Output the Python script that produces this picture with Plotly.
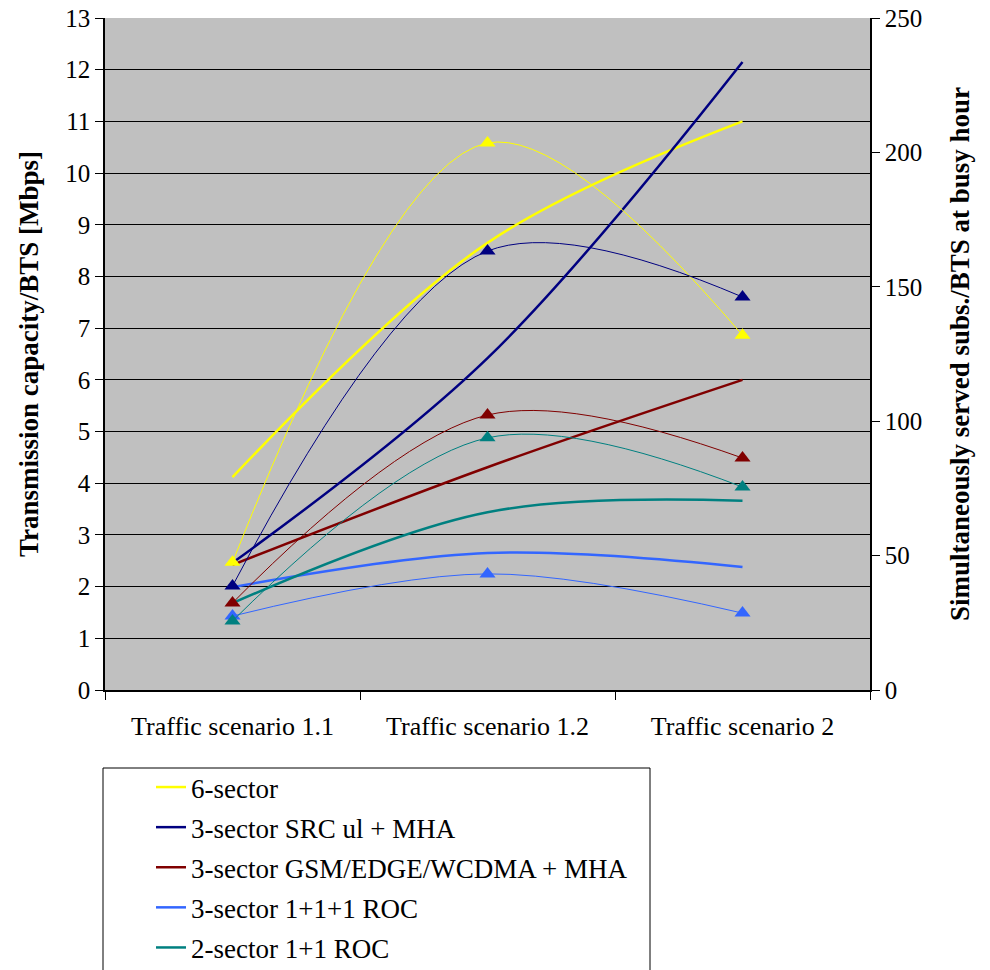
import plotly.graph_objects as go

categories = ["Traffic scenario 1.1", "Traffic scenario 1.2", "Traffic scenario 2"]
series_names = ["6-sector", "3-sector SRC ul + MHA", "3-sector GSM/EDGE/WCDMA + MHA",
                "3-sector 1+1+1 ROC", "2-sector 1+1 ROC"]
colors = ["#FFFF00", "#000080", "#800000", "#3366FF", "#008080"]

# Transmission capacity/BTS [Mbps] (left axis)
capacity = [
    [4.12, 8.65, 11.0],
    [2.46, 6.42, 12.15],
    [2.42, 4.31, 6.0],
    [1.99, 2.65, 2.38],
    [1.68, 3.44, 3.66],
]
# Simultaneously served subs./BTS at busy hour (right axis)
subs = [
    [47.5, 203.5, 132.0],
    [38.7, 163.3, 146.2],
    [32.4, 102.3, 86.3],
    [27.5, 43.2, 28.6],
    [25.7, 93.8, 75.5],
]

FONT = "Liberation Serif"
fig = go.Figure()

for i, name in enumerate(series_names):
    fig.add_trace(go.Scatter(
        x=categories, y=capacity[i], name=name, mode="lines",
        line=dict(color=colors[i], width=2.5, shape="spline", smoothing=1.0),
        legendgroup=name, yaxis="y"))

for i, name in enumerate(series_names):
    fig.add_trace(go.Scatter(
        x=categories, y=subs[i], name=name, mode="lines+markers", showlegend=False,
        line=dict(color=colors[i], width=1, shape="spline", smoothing=1.0),
        marker=dict(symbol="triangle-up", size=14, color=colors[i]),
        legendgroup=name, yaxis="y2"))

# legend frame (extends beyond the bottom edge as in the reference)
fig.add_shape(type="rect", xref="paper", yref="paper",
              x0=(103 - 105) / 765, x1=(650 - 105) / 765,
              y0=(690 - 768) / 672, y1=(690 - 990) / 672,
              line=dict(color="black", width=1), fillcolor="white", layer="below")

fig.update_layout(
    width=990, height=970,
    margin=dict(l=105, r=120, t=18, b=280, autoexpand=False),
    paper_bgcolor="white", plot_bgcolor="#C0C0C0",
    font=dict(family=FONT, size=25, color="black"),
    xaxis=dict(type="category", range=[-0.5, 2.5], tickson="boundaries",
               ticks="outside", ticklen=8, tickcolor="black", tickangle=0,
               showline=True, linecolor="black", linewidth=1.5,
               showgrid=False, tickfont=dict(size=26), ticklabelstandoff=12),
    yaxis=dict(range=[0, 13], dtick=1, ticks="outside", ticklen=8, tickcolor="black",
               showline=True, linecolor="black", linewidth=1.5,
               showgrid=True, gridcolor="black", gridwidth=1, zeroline=False,
               title=dict(text="<b>Transmission capacity/BTS [Mbps]</b>", font=dict(size=27), standoff=19),
               tickfont=dict(size=25)),
    yaxis2=dict(range=[0, 250], dtick=50, overlaying="y", side="right",
                ticks="outside", ticklen=8, tickcolor="black",
                showline=True, linecolor="black", linewidth=1.5,
                showgrid=False, zeroline=False,
                title=dict(text="<b>Simultaneously served subs./BTS at busy hour</b>", font=dict(size=27), standoff=29),
                tickfont=dict(size=25)),
    legend=dict(x=(151 - 105) / 765, xanchor="left", y=(690 - 763) / 672, yanchor="top",
                borderwidth=0, bgcolor="rgba(0,0,0,0)",
                font=dict(size=27), traceorder="grouped", tracegroupgap=2),
)

fig.write_html("out.html")
